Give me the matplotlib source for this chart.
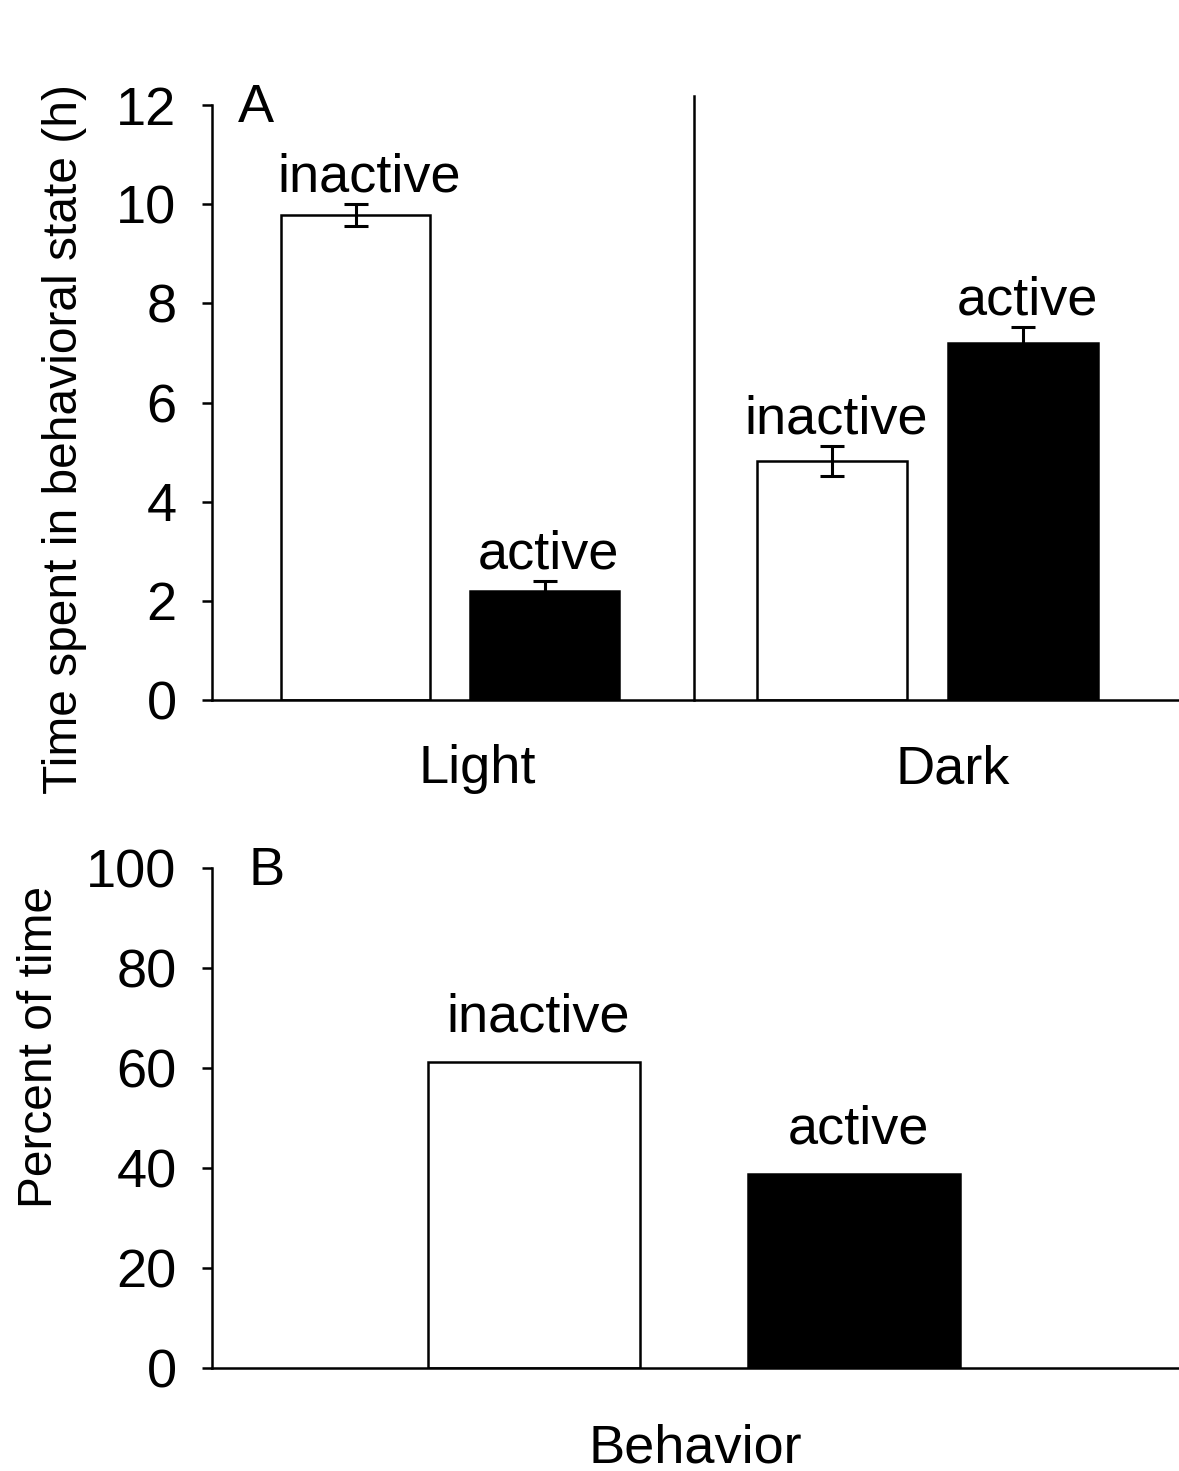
import matplotlib
matplotlib.use("Agg")
import matplotlib.pyplot as plt

plt.rcParams['font.family'] = ['Liberation Sans', 'DejaVu Sans']

# panel A data (hours)
phases = ["Light", "Dark"]
states = ["inactive", "active"]
light_mean = [9.78, 2.2]
light_err = [0.22, 0.2]
dark_mean = [4.82, 7.2]
dark_err = [0.3, 0.32]

# panel B data (percent)
pct_states = ["inactive", "active"]
pct_values = [61.2, 38.8]

FS = 39
YFS = 34.5
LW = 1.8

fig = plt.figure(figsize=(11.79, 14.71), dpi=100)

# ---- panel A ----
axA = fig.add_axes([0.1798, 0.5241, 0.8202, 0.4045])
xpos = [0, 1, 2.52, 3.53]
means = light_mean + dark_mean
errs = light_err + dark_err
colors = ["white", "black", "white", "black"]
axA.bar(xpos, means, width=0.79, color=colors, edgecolor="black", linewidth=LW, zorder=2)
axA.errorbar(xpos, means, yerr=errs, fmt="none", ecolor="black", elinewidth=2.2,
             capsize=8.5, capthick=2.2, zorder=3)
label_dx = [10, 3, 3, 3]
for i in range(4):
    axA.annotate(states[i % 2], (xpos[i], means[i] + errs[i]), xytext=(label_dx[i], 9),
                 textcoords="offset points", ha="center", va="baseline", fontsize=FS)

axA.plot([1.79, 1.79], [0, 12.18], color="black", lw=LW, clip_on=False)
axA.set_xlim(-0.76, 4.355)
axA.set_ylim(0, 12)
axA.set_yticks(range(0, 13, 2))
axA.set_xticks([0.645, 3.16])
axA.set_xticklabels(phases)
axA.tick_params(axis="x", length=0, pad=32, labelsize=FS)
axA.tick_params(axis="y", direction="out", length=7.5, width=LW, pad=18, labelsize=FS)
for s in ["top", "right"]:
    axA.spines[s].set_visible(False)
for s in ["left", "bottom"]:
    axA.spines[s].set_linewidth(LW)
axA.text(0.045, 0.995, "A", transform=axA.transAxes, fontsize=FS, ha="center", va="center")

fig.text(65 / 1179, 1 - 439 / 1471, "Time spent in behavioral state (h)", rotation=90,
         ha="center", va="center", fontsize=YFS)

# ---- panel B ----
axB = fig.add_axes([0.1798, 0.0700, 0.8202, 0.3399])
bpos = [0, 1]
axB.bar(bpos, pct_values, width=0.6625, color=["white", "black"], edgecolor="black",
        linewidth=LW, zorder=2)
for i in range(2):
    axB.annotate(pct_states[i], (bpos[i], pct_values[i]), xytext=(3, 22),
                 textcoords="offset points", ha="center", va="baseline", fontsize=FS)
axB.set_xlim(-1.006, 2.016)
axB.set_ylim(0, 100)
axB.set_yticks(range(0, 101, 20))
axB.set_xticks([])
axB.tick_params(axis="y", direction="out", length=7.5, width=LW, pad=18, labelsize=FS)
for s in ["top", "right"]:
    axB.spines[s].set_visible(False)
for s in ["left", "bottom"]:
    axB.spines[s].set_linewidth(LW)
axB.text(0.057, 0.995, "B", transform=axB.transAxes, fontsize=FS, ha="center", va="center")
axB.set_xlabel("Behavior", fontsize=FS, labelpad=40)

fig.text(40 / 1179, 1 - 1047 / 1471, "Percent of time", rotation=90,
         ha="center", va="center", fontsize=YFS)

fig.savefig("out.png", dpi=100)
